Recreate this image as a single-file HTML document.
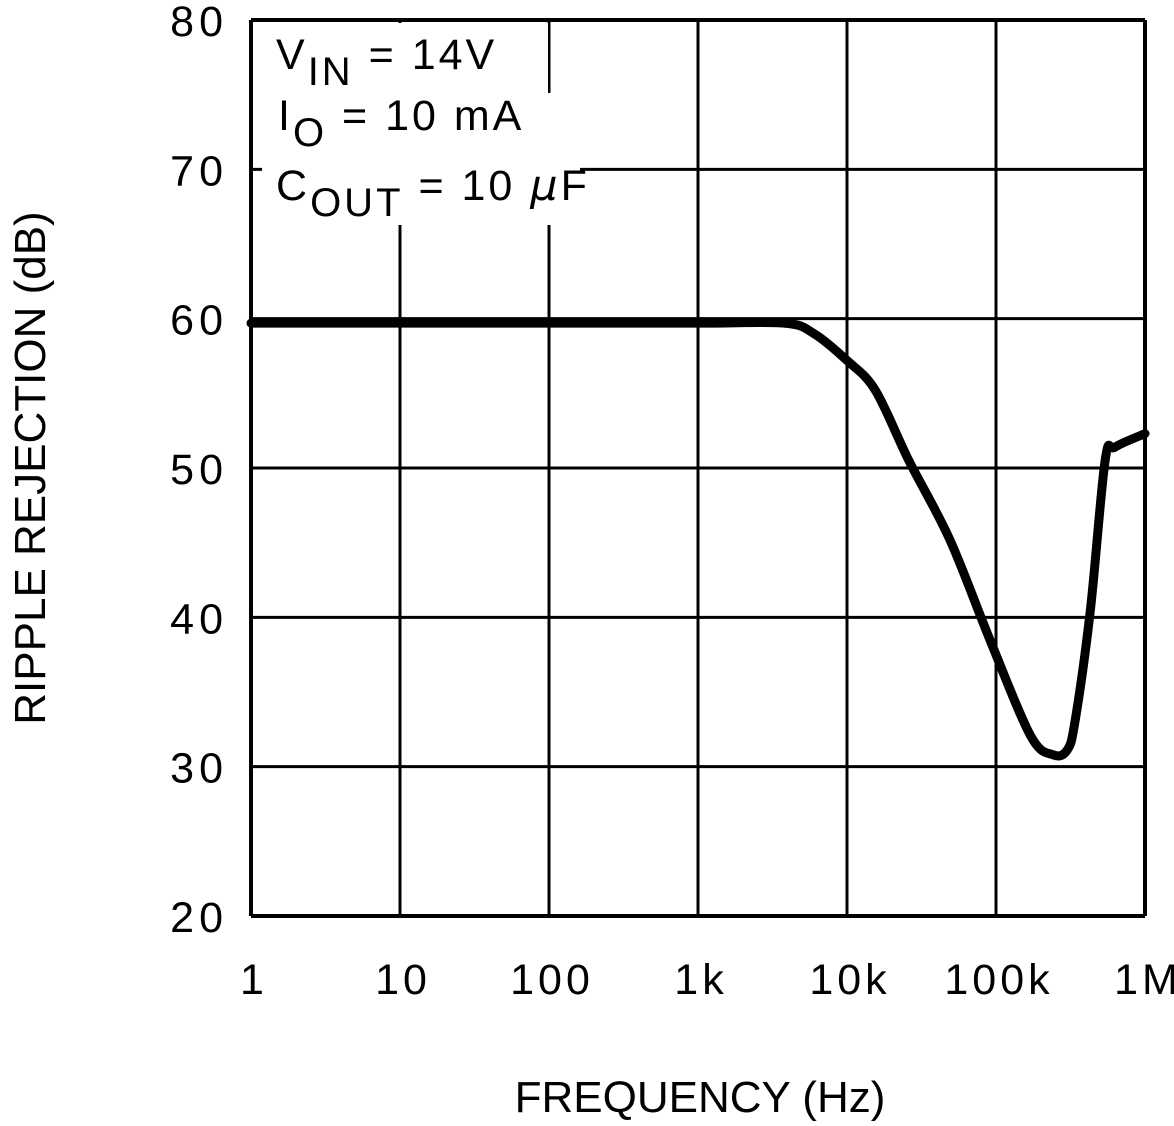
<!DOCTYPE html>
<html><head><meta charset="utf-8"><style>
body{margin:0;background:#fff}
svg text{font-family:"Liberation Sans",sans-serif;fill:#000}
</style></head><body>
<svg id="c" width="1174" height="1121" xmlns="http://www.w3.org/2000/svg"></svg>
<script>
const xTicks=[1,10,100,1000,1e4,1e5,1e6];
const xTickLabels=["1","10","100","1k","10k","100k","1M"];
const yTicks=[20,30,40,50,60,70,80];
const freqs=[1,10,100,1000,3800,6000,10000,15500,26000,49000,91000,170000,240000,300000,340000,430000,540000,630000,1000000];
const rejection=[59.7,59.7,59.7,59.7,59.7,59,57.2,55.2,50.5,45.2,38.5,32.1,30.8,31.1,33.1,40.5,50.5,51.4,52.3];
const L=251,R=1145,T=20,B=916;
const sx=f=>L+(Math.log10(f))/6*(R-L);
const sy=v=>B-(v-20)/60*(B-T);
const s=document.getElementById('c');
const NS="http://www.w3.org/2000/svg";
function mk(t,a,p){const e=document.createElementNS(NS,t);for(const k in a)e.setAttribute(k,a[k]);(p||s).appendChild(e);return e;}
xTicks.forEach((f,i)=>{
 const l=mk('line',{x1:sx(f),x2:sx(f),y1:T,y2:B,stroke:'#000','stroke-width':(i==0||i==6)?4:3});
 
 
 const t=mk('text',{x:sx(f)+3,y:994,'font-size':43,'text-anchor':'middle','letter-spacing':4});
 t.textContent=xTickLabels[i];
 
 
});
yTicks.forEach((v,i)=>{
 const l=mk('line',{x1:L,x2:R,y1:sy(v),y2:sy(v),stroke:'#000','stroke-width':(i==0||i==6)?4:3});
 
 
 const t=mk('text',{x:228,y:sy(v)+16,'font-size':43,'text-anchor':'end','letter-spacing':5});
 t.textContent=String(v);
 
 
});
mk('rect',{x:253,y:23,width:295,height:70,fill:'#fff'});
mk('rect',{x:253,y:93,width:300,height:40,fill:'#fff'});
mk('rect',{x:262,y:133,width:318,height:92,fill:'#fff'});
const ann=mk('g',{});


ann.innerHTML='<text x="276" y="69" font-size="43" letter-spacing="3">V<tspan font-size="40" dy="16">IN</tspan><tspan dy="-16"> = 14V</tspan></text>'+
'<text x="278" y="130" font-size="43" letter-spacing="3">I<tspan font-size="40" dy="16">O</tspan><tspan dy="-16"> = 10 mA</tspan></text>'+
'<text x="276" y="200" font-size="43" letter-spacing="3">C<tspan font-size="40" dy="16">OUT</tspan><tspan dy="-16"> = 10 </tspan><tspan font-family="DejaVu Sans" font-style="italic">μ</tspan>F</text>';
s.appendChild(ann);
const P=freqs.map((f,i)=>[sx(f),sy(rejection[i])]);
let d='M'+P[0][0]+','+P[0][1];
for(let i=0;i<P.length-1;i++){const p0=P[Math.max(0,i-1)],p1=P[i],p2=P[i+1],p3=P[Math.min(P.length-1,i+2)];
 d+=' C'+(p1[0]+(p2[0]-p0[0])/6)+','+(p1[1]+(p2[1]-p0[1])/6)+' '+(p2[0]-(p3[0]-p1[0])/6)+','+(p2[1]-(p3[1]-p1[1])/6)+' '+p2[0]+','+p2[1];}
const c=mk('path',{d:d,fill:'none',stroke:'#000','stroke-width':9,'stroke-linejoin':'round','stroke-linecap':'round'});


const xt=mk('text',{x:700,y:1112,'font-size':44,'text-anchor':'middle'});
xt.textContent='FREQUENCY (Hz)';


const yt=mk('text',{x:0,y:0,'font-size':44,'text-anchor':'middle',transform:'translate(45,468) rotate(-90)'});
yt.textContent='RIPPLE REJECTION (dB)';


</script>
</body></html>
